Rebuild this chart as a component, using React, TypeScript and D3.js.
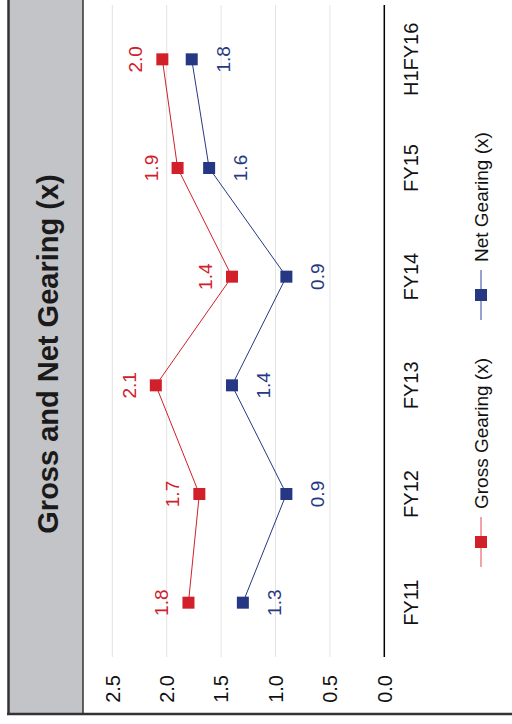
import React, { useEffect, useRef } from 'react';
import * as d3 from 'd3';

// Chart values
const categories = ['FY11', 'FY12', 'FY13', 'FY14', 'FY15', 'H1FY16'];
const grossGearing = [1.8, 1.7, 2.1, 1.4, 1.9, 2.04];
const netGearing = [1.3, 0.9, 1.4, 0.9, 1.61, 1.77];
const valueTicks = [0, 0.5, 1.0, 1.5, 2.0, 2.5];
const seriesNames = ['Gross Gearing (x)', 'Net Gearing (x)'];
const title = 'Gross and Net Gearing (x)';

const RED = '#d1202a';
const NAVY = '#263883';
const FONT = 'Liberation Sans, Arial, sans-serif';

export default function App() {
  const svgRef = useRef<SVGSVGElement>(null);

  useEffect(() => {
    if (!svgRef.current) return;
    const svg = d3.select(svgRef.current);
    svg.selectAll('*').remove();

    const W = 512;
    const H = 724;

    // the chart is drawn landscape and turned a quarter turn to the left
    const g = svg.append('g').attr('transform', `translate(0,${H}) rotate(-90)`);

    const x = d3.scaleBand<string>().domain(categories).range([67, 719]);
    const y = d3.scaleLinear().domain([0, 2.5]).range([384.3, 112.3]);

    // title band
    g.append('rect')
      .attr('x', 10).attr('y', 8)
      .attr('width', H).attr('height', 75)
      .attr('fill', '#c3c4c8');
    g.append('line')
      .attr('x1', 10).attr('x2', H + 2)
      .attr('y1', 83).attr('y2', 83)
      .attr('stroke', '#333').attr('stroke-width', 1.5);
    g.append('line')
      .attr('x1', 10).attr('x2', H + 2)
      .attr('y1', 8.5).attr('y2', 8.5)
      .attr('stroke', '#333').attr('stroke-width', 2.5);
    g.append('line')
      .attr('x1', 10).attr('x2', 10)
      .attr('y1', 7).attr('y2', W + 2)
      .attr('stroke', '#333').attr('stroke-width', 2.5);

    g.append('text')
      .attr('x', 370).attr('y', 58)
      .attr('text-anchor', 'middle')
      .attr('font-family', FONT)
      .attr('font-weight', 'bold')
      .attr('font-size', 29)
      .attr('fill', '#1a1a1a')
      .text(title);

    // grid and value ticks
    const [x0, x1] = x.range();
    valueTicks.forEach(t => {
      if (t > 0) {
        g.append('line')
          .attr('x1', x0).attr('x2', x1)
          .attr('y1', y(t)).attr('y2', y(t))
          .attr('stroke', '#e3e3e3').attr('stroke-width', 1);
      }
      g.append('text')
        .attr('x', 49).attr('y', y(t))
        .attr('dy', '0.36em')
        .attr('text-anchor', 'end')
        .attr('font-family', FONT)
        .attr('font-size', 20)
        .attr('fill', '#111')
        .text(d3.format('.1f')(t));
    });
    g.append('line')
      .attr('x1', x0).attr('x2', x1)
      .attr('y1', y(0)).attr('y2', y(0))
      .attr('stroke', '#000').attr('stroke-width', 1.5);

    // category labels
    categories.forEach(c => {
      g.append('text')
        .attr('x', (x(c) ?? 0) + x.bandwidth() / 2)
        .attr('y', 418)
        .attr('text-anchor', 'middle')
        .attr('font-family', FONT)
        .attr('font-size', 20)
        .attr('fill', '#111')
        .text(c);
    });

    const cx = (i: number) => (x(categories[i]) ?? 0) + x.bandwidth() / 2;
    const line = d3.line<number>().x((_, i) => cx(i)).y(d => y(d));

    const series = [
      { values: grossGearing, color: RED, labelDy: -20 },
      { values: netGearing, color: NAVY, labelDy: 38 },
    ];

    series.forEach(s => {
      g.append('path')
        .attr('d', line(s.values) ?? '')
        .attr('fill', 'none')
        .attr('stroke', s.color)
        .attr('stroke-width', 1);
      s.values.forEach((v, i) => {
        g.append('rect')
          .attr('x', cx(i) - 6).attr('y', y(v) - 6)
          .attr('width', 12).attr('height', 12)
          .attr('fill', s.color);
        g.append('text')
          .attr('x', cx(i))
          .attr('y', y(v) + s.labelDy)
          .attr('text-anchor', 'middle')
          .attr('font-family', FONT)
          .attr('font-size', 19)
          .attr('fill', s.color)
          .text(d3.format('.1f')(v));
      });
    });

    // legend
    const legendX = [182, 429];
    const legendLight = ['#f0a3a8', '#9aa3cf'];
    seriesNames.forEach((name, i) => {
      const lx = legendX[i];
      const color = series[i].color;
      g.append('line')
        .attr('x1', lx - 25).attr('x2', lx + 25)
        .attr('y1', 481).attr('y2', 481)
        .attr('stroke', legendLight[i]).attr('stroke-width', 2);
      g.append('rect')
        .attr('x', lx - 6).attr('y', 475)
        .attr('width', 12).attr('height', 12)
        .attr('fill', color);
      g.append('text')
        .attr('x', lx + 33).attr('y', 488)
        .attr('font-family', FONT)
        .attr('font-size', 19)
        .attr('fill', '#111')
        .text(name);
    });
  }, []);

  return (
    <svg
      ref={svgRef}
      width={512}
      height={724}
      style={{ position: 'absolute', left: 0, top: 0, background: '#fff' }}
    />
  );
}
